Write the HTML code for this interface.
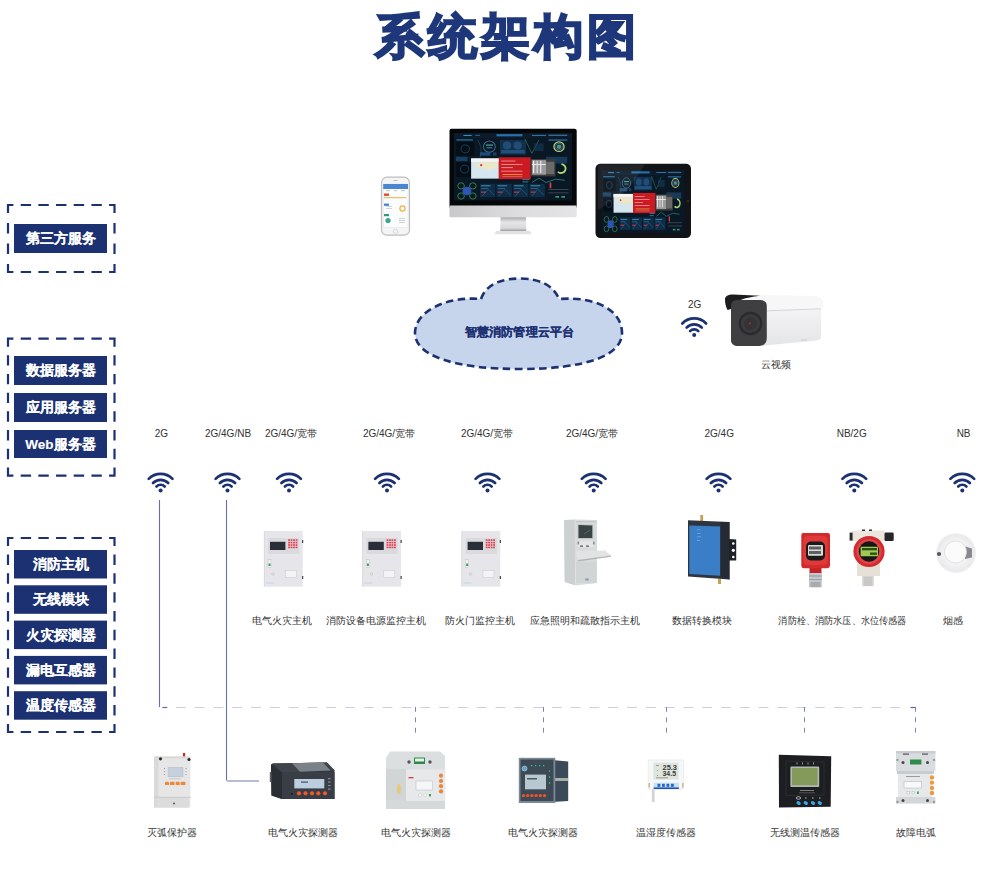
<!DOCTYPE html><html><head><meta charset="utf-8"><style>
html,body{margin:0;padding:0;background:#fff;width:1000px;height:889px;overflow:hidden}
svg{display:block}
text{font-family:"Liberation Sans",sans-serif}
.bt{fill:#fff;font-weight:bold;stroke:#fff;stroke-width:0.12px}
.lb{fill:#333;font-size:10px}
</style></head><body>
<svg width="1000" height="889" viewBox="0 0 1000 889">
<defs>
<g id="wifi">
<path d="M-11.9 -11.5 A16.6 16.6 0 0 1 11.9 -11.5" stroke="#1c3172" stroke-width="2.7" fill="none" stroke-linecap="round"/>
<path d="M-7.6 -7.4 A10.6 10.6 0 0 1 7.6 -7.4" stroke="#1c3172" stroke-width="2.7" fill="none" stroke-linecap="round"/>
<path d="M-4.1 -3.9 A5.7 5.7 0 0 1 4.1 -3.9" stroke="#1c3172" stroke-width="2.7" fill="none" stroke-linecap="round"/>
<circle cx="0" cy="0" r="2"/>
</g>
</defs>

<text transform="translate(374.5 52.6) scale(0.935 0.91)" x="0" y="0" letter-spacing="3.6" font-size="53" font-weight="bold" fill="#1e377a" stroke="#1e377a" stroke-width="2.2">系统架构图</text>
<path d="M6.90 205.00L13.40 205.00M109.10 205.00L115.60 205.00M20.68 205.00L31.08 205.00M38.37 205.00L48.77 205.00M56.05 205.00L66.45 205.00M73.73 205.00L84.13 205.00M91.42 205.00L101.82 205.00M6.90 272.00L13.40 272.00M109.10 272.00L115.60 272.00M20.68 272.00L31.08 272.00M38.37 272.00L48.77 272.00M56.05 272.00L66.45 272.00M73.73 272.00L84.13 272.00M91.42 272.00L101.82 272.00M8.00 203.90L8.00 213.10M8.00 263.90L8.00 273.10M8.00 223.10L8.00 233.50M8.00 243.50L8.00 253.90M114.50 203.90L114.50 213.10M114.50 263.90L114.50 273.10M114.50 223.10L114.50 233.50M114.50 243.50L114.50 253.90" stroke="#1c3172" stroke-width="2.20" fill="none"/>
<rect x="14.0" y="224.0" width="93.0" height="29.0" fill="#1c3172"/>
<text x="60.5" y="243.4" class="bt" font-size="13.5" text-anchor="middle">第三方服务</text>
<path d="M6.90 338.70L13.40 338.70M109.10 338.70L115.60 338.70M20.68 338.70L31.08 338.70M38.37 338.70L48.77 338.70M56.05 338.70L66.45 338.70M73.73 338.70L84.13 338.70M91.42 338.70L101.82 338.70M6.90 475.70L13.40 475.70M109.10 475.70L115.60 475.70M20.68 475.70L31.08 475.70M38.37 475.70L48.77 475.70M56.05 475.70L66.45 475.70M73.73 475.70L84.13 475.70M91.42 475.70L101.82 475.70M8.00 337.60L8.00 346.80M8.00 467.60L8.00 476.80M8.00 355.14L8.00 365.54M8.00 373.89L8.00 384.29M8.00 392.63L8.00 403.03M8.00 411.37L8.00 421.77M8.00 430.11L8.00 440.51M8.00 448.86L8.00 459.26M114.50 337.60L114.50 346.80M114.50 467.60L114.50 476.80M114.50 355.14L114.50 365.54M114.50 373.89L114.50 384.29M114.50 392.63L114.50 403.03M114.50 411.37L114.50 421.77M114.50 430.11L114.50 440.51M114.50 448.86L114.50 459.26" stroke="#1c3172" stroke-width="2.20" fill="none"/>
<rect x="14.0" y="356.0" width="93.0" height="29.0" fill="#1c3172"/>
<text x="60.5" y="375.4" class="bt" font-size="13.5" text-anchor="middle">数据服务器</text>
<rect x="14.0" y="393.0" width="93.0" height="29.0" fill="#1c3172"/>
<text x="60.5" y="412.4" class="bt" font-size="13.5" text-anchor="middle">应用服务器</text>
<rect x="14.0" y="430.0" width="93.0" height="28.0" fill="#1c3172"/>
<text x="60.5" y="448.9" class="bt" font-size="13.5" text-anchor="middle">Web服务器</text>
<path d="M6.90 538.00L13.40 538.00M109.10 538.00L115.60 538.00M20.68 538.00L31.08 538.00M38.37 538.00L48.77 538.00M56.05 538.00L66.45 538.00M73.73 538.00L84.13 538.00M91.42 538.00L101.82 538.00M6.90 732.00L13.40 732.00M109.10 732.00L115.60 732.00M20.68 732.00L31.08 732.00M38.37 732.00L48.77 732.00M56.05 732.00L66.45 732.00M73.73 732.00L84.13 732.00M91.42 732.00L101.82 732.00M8.00 536.90L8.00 546.10M8.00 723.90L8.00 733.10M8.00 554.52L8.00 564.92M8.00 573.34L8.00 583.74M8.00 592.16L8.00 602.56M8.00 610.98L8.00 621.38M8.00 629.80L8.00 640.20M8.00 648.62L8.00 659.02M8.00 667.44L8.00 677.84M8.00 686.26L8.00 696.66M8.00 705.08L8.00 715.48M114.50 536.90L114.50 546.10M114.50 723.90L114.50 733.10M114.50 554.52L114.50 564.92M114.50 573.34L114.50 583.74M114.50 592.16L114.50 602.56M114.50 610.98L114.50 621.38M114.50 629.80L114.50 640.20M114.50 648.62L114.50 659.02M114.50 667.44L114.50 677.84M114.50 686.26L114.50 696.66M114.50 705.08L114.50 715.48" stroke="#1c3172" stroke-width="2.20" fill="none"/>
<rect x="14.0" y="550.0" width="93.0" height="28.5" fill="#1c3172"/>
<text x="60.5" y="569.1" class="bt" font-size="13.5" text-anchor="middle">消防主机</text>
<rect x="14.0" y="585.3" width="93.0" height="28.5" fill="#1c3172"/>
<text x="60.5" y="604.4" class="bt" font-size="13.5" text-anchor="middle">无线模块</text>
<rect x="14.0" y="620.6" width="93.0" height="28.5" fill="#1c3172"/>
<text x="60.5" y="639.7" class="bt" font-size="13.5" text-anchor="middle">火灾探测器</text>
<rect x="14.0" y="655.9" width="93.0" height="28.5" fill="#1c3172"/>
<text x="60.5" y="675.0" class="bt" font-size="13.5" text-anchor="middle">漏电互感器</text>
<rect x="14.0" y="691.2" width="93.0" height="28.5" fill="#1c3172"/>
<text x="60.5" y="710.3" class="bt" font-size="13.5" text-anchor="middle">温度传感器</text>
<use href="#wifi" x="160.6" y="490.4" fill="#1c3172"/>
<use href="#wifi" x="227.5" y="490.4" fill="#1c3172"/>
<use href="#wifi" x="289.0" y="490.4" fill="#1c3172"/>
<use href="#wifi" x="387.0" y="490.4" fill="#1c3172"/>
<use href="#wifi" x="487.5" y="490.4" fill="#1c3172"/>
<use href="#wifi" x="593.7" y="490.4" fill="#1c3172"/>
<use href="#wifi" x="718.5" y="490.4" fill="#1c3172"/>
<use href="#wifi" x="854.3" y="490.4" fill="#1c3172"/>
<use href="#wifi" x="962.3" y="490.4" fill="#1c3172"/>
<use href="#wifi" x="694.2" y="335.0" fill="#1c3172"/>
<text x="161.4" y="437.0" class="lb" text-anchor="middle">2G</text>
<text x="228.0" y="437.0" class="lb" text-anchor="middle">2G/4G/NB</text>
<text x="291.0" y="437.0" class="lb" text-anchor="middle">2G/4G/宽带</text>
<text x="389.0" y="437.0" class="lb" text-anchor="middle">2G/4G/宽带</text>
<text x="487.0" y="437.0" class="lb" text-anchor="middle">2G/4G/宽带</text>
<text x="592.0" y="437.0" class="lb" text-anchor="middle">2G/4G/宽带</text>
<text x="719.2" y="437.0" class="lb" text-anchor="middle">2G/4G</text>
<text x="851.7" y="437.0" class="lb" text-anchor="middle">NB/2G</text>
<text x="963.6" y="437.0" class="lb" text-anchor="middle">NB</text>
<text x="694.6" y="308.0" class="lb" text-anchor="middle">2G</text>
<text x="281.5" y="624.0" class="lb" text-anchor="middle">电气火灾主机</text>
<text x="375.6" y="624.0" class="lb" text-anchor="middle">消防设备电源监控主机</text>
<text x="479.5" y="624.0" class="lb" text-anchor="middle">防火门监控主机</text>
<text x="584.8" y="624.0" class="lb" text-anchor="middle">应急照明和疏散指示主机</text>
<text x="702.4" y="624.0" class="lb" text-anchor="middle">数据转换模块</text>
<text x="842.4" y="624.0" class="lb" text-anchor="middle" textLength="128" lengthAdjust="spacingAndGlyphs">消防栓、消防水压、水位传感器</text>
<text x="953.2" y="624.0" class="lb" text-anchor="middle">烟感</text>
<text x="775.5" y="368.0" class="lb" text-anchor="middle">云视频</text>
<text x="172.3" y="836.0" class="lb" text-anchor="middle">灭弧保护器</text>
<text x="303.0" y="836.0" class="lb" text-anchor="middle">电气火灾探测器</text>
<text x="415.9" y="836.0" class="lb" text-anchor="middle">电气火灾探测器</text>
<text x="543.2" y="836.0" class="lb" text-anchor="middle">电气火灾探测器</text>
<text x="666.2" y="836.0" class="lb" text-anchor="middle">温湿度传感器</text>
<text x="804.7" y="836.0" class="lb" text-anchor="middle">无线测温传感器</text>
<text x="916.4" y="836.0" class="lb" text-anchor="middle">故障电弧</text>
<path d="M159.5 500 V707" stroke="#6670a8" stroke-width="1.1" fill="none"/>
<path d="M162.4 707.5 H167.2" stroke="#5a64a8" stroke-width="1.2" fill="none"/>
<path d="M226.5 500 V780.5" stroke="#6670a8" stroke-width="1.1" fill="none"/>
<path d="M227 781 H259" stroke="#a9b1cf" stroke-width="1.7" fill="none"/>
<path d="M910.5 707.5 H916" stroke="#5a64a8" stroke-width="1.2" fill="none"/>
<path d="M176 707.5 H905" stroke="#c9cee2" stroke-width="1" fill="none" stroke-dasharray="9.6 9.2"/>
<path d="M415.5 707 V733" stroke="#7d86b0" stroke-width="1" fill="none" stroke-dasharray="4.8 5.6"/>
<path d="M543.5 707 V733" stroke="#7d86b0" stroke-width="1" fill="none" stroke-dasharray="4.8 5.6"/>
<path d="M666.5 707 V733" stroke="#7d86b0" stroke-width="1" fill="none" stroke-dasharray="4.8 5.6"/>
<path d="M804.5 707 V733" stroke="#7d86b0" stroke-width="1" fill="none" stroke-dasharray="4.8 5.6"/>
<path d="M915.5 707 V733" stroke="#7d86b0" stroke-width="1" fill="none" stroke-dasharray="4.8 5.6"/>
<path d="M481 299 C486 284 502 278.5 520 278.5 C540 278.5 554 286 559 299 C595 296 622 310 622 333 C622 356 585 369 520 369 C455 369 415 356 415 333 C415 312 445 296 481 299 Z" fill="#c6d4ec" stroke="#1c3172" stroke-width="2.6" stroke-dasharray="7.5 4.5"/>
<text x="519.5" y="336" text-anchor="middle" style="font-size:12.2px;font-weight:700" fill="#1c3172" stroke="#1c3172" stroke-width="0.15" textLength="108.5" lengthAdjust="spacingAndGlyphs">智慧消防管理云平台</text>
<g id="phone">
<rect x="381.5" y="177.2" width="28" height="58" rx="5.5" fill="#f4f4f4" stroke="#bdbdbd" stroke-width="1.2"/>
<rect x="383.2" y="184" width="24.8" height="43.5" fill="#fbfcfe" stroke="#d8dde3" stroke-width="0.4"/>
<rect x="383.2" y="184" width="24.8" height="5" fill="#4a86cf"/>
<rect x="393.5" y="180" width="4" height="1" fill="#bbb"/>
<circle cx="395.5" cy="231.3" r="2.2" fill="none" stroke="#c8c8c8" stroke-width="0.6"/>
<rect x="384" y="193.5" width="5" height="2.4" fill="#e0463c"/>
<rect x="384" y="197.2" width="22.5" height="1" fill="#f0b040"/>
<rect x="384" y="203.6" width="5" height="2.2" fill="#3d7fd0"/>
<circle cx="402.5" cy="208.5" r="2.6" fill="none" stroke="#f2b23a" stroke-width="1.2"/>
<rect x="384" y="214" width="5" height="2.2" fill="#2e9a78"/>
<circle cx="388" cy="220.5" r="2.6" fill="#3aa88a"/>
<rect x="386" y="190.5" width="4" height="0.6" fill="#999"/><rect x="394" y="190.5" width="3" height="0.6" fill="#999"/><rect x="401" y="190.5" width="4" height="0.6" fill="#999"/>
<rect x="386" y="206" width="6" height="0.5" fill="#aaa"/><rect x="386" y="208" width="6" height="0.5" fill="#aaa"/>
<rect x="399" y="218" width="6" height="0.5" fill="#aaa"/><rect x="399" y="220" width="6" height="0.5" fill="#aaa"/><rect x="399" y="222" width="6" height="0.5" fill="#aaa"/>
</g>
<g id="imac">
<defs><linearGradient id="chin" x1="0" y1="0" x2="1" y2="0"><stop offset="0" stop-color="#c8c8ca"/><stop offset="0.5" stop-color="#dcdcde"/><stop offset="1" stop-color="#e4e4e6"/></linearGradient>
<linearGradient id="stand" x1="0" y1="0" x2="0" y2="1"><stop offset="0" stop-color="#a9a9ab"/><stop offset="0.35" stop-color="#e6e6e8"/><stop offset="0.8" stop-color="#d8d8da"/><stop offset="1" stop-color="#9c9c9e"/></linearGradient></defs>
<rect x="449.5" y="128.7" width="127.2" height="80" rx="2" fill="#060708"/>
<rect x="449.5" y="205.5" width="127.2" height="11.8" rx="1.2" fill="url(#chin)"/>
<path d="M500.5 217.3 L526 217.3 L526.3 231 L500.2 231 Z" fill="url(#stand)"/>
<path d="M496 231 L530 231 L531.5 234.2 L494.5 234.2 Z" fill="#e2e2e4"/>

<g transform="translate(454.00 133.20) scale(1.1800 1.1217)">
<rect x="0" y="0" width="100" height="60" fill="#0a1724"/>
<rect x="0" y="0" width="100" height="4.5" fill="#0c1c2c"/>
<rect x="8" y="1.5" width="7" height="1" fill="#3f8ab8"/><rect x="18" y="1.5" width="4" height="0.8" fill="#2d6a90"/><rect x="36" y="0.8" width="22" height="2" fill="#2a6fa8"/><rect x="66" y="1.5" width="12" height="0.9" fill="#3a7aa8"/><rect x="80" y="1.3" width="16" height="1.2" fill="#4a8ab8" opacity="0.7"/>
<rect x="2" y="5.5" width="14" height="1" fill="#2a7ab0"/><rect x="80" y="5.5" width="16" height="1.2" fill="#2a6a9a"/>
<rect x="2" y="8" width="15" height="12" fill="#050d15"/>
<circle cx="9.5" cy="14" r="3.5" fill="none" stroke="#1f4a6a" stroke-width="0.7"/>
<rect x="1.5" y="21" width="10" height="4" fill="#1a4a70" opacity="0.8"/>
<rect x="2" y="26" width="13" height="13" fill="#050d15"/>
<circle cx="9" cy="32" r="3.5" fill="none" stroke="#1f4a6a" stroke-width="0.7"/>
<path d="M20 6 C24 12 24 20 20 26" stroke="#2a4a60" stroke-width="0.6" fill="none"/>
<circle cx="30" cy="12" r="5" fill="none" stroke="#3a6a90" stroke-width="0.9"/><rect x="27" y="10" width="6" height="1.2" fill="#3fa080"/><rect x="27.5" y="12.5" width="5" height="1" fill="#3a7aa0"/>
<rect x="22" y="17" width="9" height="3" fill="#1f5a8a" opacity="0.8"/><rect x="33" y="17" width="3" height="3" fill="#1f5a8a" opacity="0.6"/>
<rect x="39" y="6" width="22" height="13" fill="#163a5a" opacity="0.75"/>
<circle cx="45" cy="11" r="3.5" fill="#23507a" opacity="0.9"/><circle cx="54" cy="11" r="3.5" fill="#23507a" opacity="0.9"/>
<rect x="40" y="15" width="20" height="3" fill="#2a6090" opacity="0.7"/>
<path d="M60 5 L66 18 L72 6" stroke="#2a7a5a" stroke-width="0.6" fill="none"/>
<rect x="68" y="9" width="8" height="7" fill="#163a5a" opacity="0.6"/>
<circle cx="89" cy="12" r="4.3" fill="none" stroke="#a8d870" stroke-width="1.1"/><circle cx="89" cy="12" r="3" fill="none" stroke="#8a60c0" stroke-width="0.6"/><circle cx="89" cy="12" r="2" fill="#3a9a80"/>
<rect x="78" y="21" width="18" height="6" fill="#1a4466" opacity="0.8"/>
<g transform="translate(0 1.5)">
<rect x="14.5" y="21" width="23.5" height="18" fill="#d6e6ee"/>
<rect x="14.5" y="21" width="23.5" height="3" fill="#f4f4f2"/>
<path d="M16 28 L23 24.5 L37 24.5 L37 29 L30 31 L22 29 Z" fill="#eee6c0" opacity="0.85"/>
<circle cx="23" cy="27" r="1" fill="#e04040"/>
<rect x="38" y="20" width="27" height="19.5" fill="#cc1a22"/>
<rect x="40" y="23" width="12" height="0.6" fill="#f6c0c0"/><rect x="40" y="26" width="18" height="0.6" fill="#f6c0c0"/><rect x="40" y="29" width="10" height="0.6" fill="#f6c0c0"/><rect x="40" y="32" width="18" height="0.6" fill="#f6c0c0"/><rect x="41" y="35" width="17" height="0.8" fill="#e0a040"/><rect x="41" y="37" width="17" height="0.6" fill="#d08080"/>
<rect x="65" y="21.5" width="21" height="15.5" fill="#3c3c3c"/>
<rect x="66" y="22.5" width="12" height="13" fill="#9a9a9a"/>
<rect x="67" y="23" width="1" height="11" fill="#f0f0f0"/><rect x="70" y="23" width="1" height="11" fill="#e0e0e0"/><rect x="73" y="23" width="1" height="11" fill="#e8e8e8"/><rect x="66" y="26" width="12" height="0.8" fill="#eee"/><rect x="78" y="24" width="7" height="11" fill="#6a6a6a"/>
<path d="M91 26 A4 4 0 1 1 88 33" stroke="#a8d870" stroke-width="1.6" fill="none"/>
</g>
<rect x="58" y="41" width="6" height="0.8" fill="#3a8aa0"/><rect x="58" y="43" width="5" height="0.8" fill="#3a8aa0"/><path d="M66 44 L72 40 L78 44 L86 41 L94 42" stroke="#2a8a7a" stroke-width="0.7" fill="none"/>
<circle cx="6" cy="47" r="2.8" fill="none" stroke="#3a9a50" stroke-width="0.7"/><circle cx="16" cy="47" r="2.8" fill="none" stroke="#3a9a50" stroke-width="0.7"/><circle cx="6" cy="56" r="2.8" fill="none" stroke="#3a9a50" stroke-width="0.7"/><circle cx="16" cy="56" r="2.8" fill="none" stroke="#3a9a50" stroke-width="0.7"/>
<circle cx="11" cy="51.5" r="3.8" fill="#2d55b5"/>
<rect x="22" y="45" width="13" height="12" fill="#10304a" opacity="0.9"/><rect x="23" y="46.5" width="8" height="0.8" fill="#4a9ac8"/><rect x="23" y="49" width="6" height="0.6" fill="#3a7aa0"/><rect x="23" y="52" width="4" height="1.1" fill="#d03040"/><path d="M24 56 L29 50 L34 55" stroke="#2a70a0" stroke-width="0.5" fill="none"/>
<rect x="36" y="45" width="13" height="12" fill="#10304a" opacity="0.9"/><rect x="37" y="46.5" width="8" height="0.8" fill="#4a9ac8"/><rect x="37" y="49" width="6" height="0.6" fill="#3a7aa0"/><rect x="37" y="52" width="4" height="1.1" fill="#d03040"/><path d="M38 56 L43 50 L48 55" stroke="#2a70a0" stroke-width="0.5" fill="none"/>
<rect x="50" y="45" width="13" height="12" fill="#10304a" opacity="0.9"/><rect x="51" y="46.5" width="8" height="0.8" fill="#4a9ac8"/><rect x="51" y="49" width="6" height="0.6" fill="#3a7aa0"/><rect x="51" y="52" width="4" height="1.1" fill="#d03040"/><path d="M52 56 L57 50 L62 55" stroke="#2a70a0" stroke-width="0.5" fill="none"/>
<rect x="64" y="45" width="13" height="12" fill="#10304a" opacity="0.9"/><rect x="65" y="46.5" width="8" height="0.8" fill="#4a9ac8"/><rect x="65" y="49" width="6" height="0.6" fill="#3a7aa0"/><rect x="65" y="52" width="4" height="1.1" fill="#d03040"/><path d="M66 56 L71 50 L76 55" stroke="#2a70a0" stroke-width="0.5" fill="none"/>
<rect x="81" y="44" width="1.5" height="5" fill="#d04050"/><rect x="80" y="50" width="17" height="0.5" fill="#667"/><rect x="80" y="53" width="17" height="0.5" fill="#667"/><rect x="86" y="56" width="3" height="1.5" fill="#3aa070"/><rect x="91" y="56" width="3" height="1.5" fill="#3aa070"/>
</g>
</g>
<g id="tablet">
<rect x="595.5" y="163.8" width="95.5" height="74.3" rx="5" fill="#121316"/>
<path d="M650 163.8 L691 163.8 L691 200 Z" fill="#2a2b30" opacity="0.0"/>
<circle cx="688" cy="201" r="1.3" fill="#2a2c30"/>

<g transform="translate(601.50 170.50) scale(0.8300 1.0417)">
<rect x="0" y="0" width="100" height="60" fill="#0a1724"/>
<rect x="0" y="0" width="100" height="4.5" fill="#0c1c2c"/>
<rect x="8" y="1.5" width="7" height="1" fill="#3f8ab8"/><rect x="18" y="1.5" width="4" height="0.8" fill="#2d6a90"/><rect x="36" y="0.8" width="22" height="2" fill="#2a6fa8"/><rect x="66" y="1.5" width="12" height="0.9" fill="#3a7aa8"/><rect x="80" y="1.3" width="16" height="1.2" fill="#4a8ab8" opacity="0.7"/>
<rect x="2" y="5.5" width="14" height="1" fill="#2a7ab0"/><rect x="80" y="5.5" width="16" height="1.2" fill="#2a6a9a"/>
<rect x="2" y="8" width="15" height="12" fill="#050d15"/>
<circle cx="9.5" cy="14" r="3.5" fill="none" stroke="#1f4a6a" stroke-width="0.7"/>
<rect x="1.5" y="21" width="10" height="4" fill="#1a4a70" opacity="0.8"/>
<rect x="2" y="26" width="13" height="13" fill="#050d15"/>
<circle cx="9" cy="32" r="3.5" fill="none" stroke="#1f4a6a" stroke-width="0.7"/>
<path d="M20 6 C24 12 24 20 20 26" stroke="#2a4a60" stroke-width="0.6" fill="none"/>
<circle cx="30" cy="12" r="5" fill="none" stroke="#3a6a90" stroke-width="0.9"/><rect x="27" y="10" width="6" height="1.2" fill="#3fa080"/><rect x="27.5" y="12.5" width="5" height="1" fill="#3a7aa0"/>
<rect x="22" y="17" width="9" height="3" fill="#1f5a8a" opacity="0.8"/><rect x="33" y="17" width="3" height="3" fill="#1f5a8a" opacity="0.6"/>
<rect x="39" y="6" width="22" height="13" fill="#163a5a" opacity="0.75"/>
<circle cx="45" cy="11" r="3.5" fill="#23507a" opacity="0.9"/><circle cx="54" cy="11" r="3.5" fill="#23507a" opacity="0.9"/>
<rect x="40" y="15" width="20" height="3" fill="#2a6090" opacity="0.7"/>
<path d="M60 5 L66 18 L72 6" stroke="#2a7a5a" stroke-width="0.6" fill="none"/>
<rect x="68" y="9" width="8" height="7" fill="#163a5a" opacity="0.6"/>
<circle cx="89" cy="12" r="4.3" fill="none" stroke="#a8d870" stroke-width="1.1"/><circle cx="89" cy="12" r="3" fill="none" stroke="#8a60c0" stroke-width="0.6"/><circle cx="89" cy="12" r="2" fill="#3a9a80"/>
<rect x="78" y="21" width="18" height="6" fill="#1a4466" opacity="0.8"/>
<g transform="translate(0 1.5)">
<rect x="14.5" y="21" width="23.5" height="18" fill="#d6e6ee"/>
<rect x="14.5" y="21" width="23.5" height="3" fill="#f4f4f2"/>
<path d="M16 28 L23 24.5 L37 24.5 L37 29 L30 31 L22 29 Z" fill="#eee6c0" opacity="0.85"/>
<circle cx="23" cy="27" r="1" fill="#e04040"/>
<rect x="38" y="20" width="27" height="19.5" fill="#cc1a22"/>
<rect x="40" y="23" width="12" height="0.6" fill="#f6c0c0"/><rect x="40" y="26" width="18" height="0.6" fill="#f6c0c0"/><rect x="40" y="29" width="10" height="0.6" fill="#f6c0c0"/><rect x="40" y="32" width="18" height="0.6" fill="#f6c0c0"/><rect x="41" y="35" width="17" height="0.8" fill="#e0a040"/><rect x="41" y="37" width="17" height="0.6" fill="#d08080"/>
<rect x="65" y="21.5" width="21" height="15.5" fill="#3c3c3c"/>
<rect x="66" y="22.5" width="12" height="13" fill="#9a9a9a"/>
<rect x="67" y="23" width="1" height="11" fill="#f0f0f0"/><rect x="70" y="23" width="1" height="11" fill="#e0e0e0"/><rect x="73" y="23" width="1" height="11" fill="#e8e8e8"/><rect x="66" y="26" width="12" height="0.8" fill="#eee"/><rect x="78" y="24" width="7" height="11" fill="#6a6a6a"/>
<path d="M91 26 A4 4 0 1 1 88 33" stroke="#a8d870" stroke-width="1.6" fill="none"/>
</g>
<rect x="58" y="41" width="6" height="0.8" fill="#3a8aa0"/><rect x="58" y="43" width="5" height="0.8" fill="#3a8aa0"/><path d="M66 44 L72 40 L78 44 L86 41 L94 42" stroke="#2a8a7a" stroke-width="0.7" fill="none"/>
<circle cx="6" cy="47" r="2.8" fill="none" stroke="#3a9a50" stroke-width="0.7"/><circle cx="16" cy="47" r="2.8" fill="none" stroke="#3a9a50" stroke-width="0.7"/><circle cx="6" cy="56" r="2.8" fill="none" stroke="#3a9a50" stroke-width="0.7"/><circle cx="16" cy="56" r="2.8" fill="none" stroke="#3a9a50" stroke-width="0.7"/>
<circle cx="11" cy="51.5" r="3.8" fill="#2d55b5"/>
<rect x="22" y="45" width="13" height="12" fill="#10304a" opacity="0.9"/><rect x="23" y="46.5" width="8" height="0.8" fill="#4a9ac8"/><rect x="23" y="49" width="6" height="0.6" fill="#3a7aa0"/><rect x="23" y="52" width="4" height="1.1" fill="#d03040"/><path d="M24 56 L29 50 L34 55" stroke="#2a70a0" stroke-width="0.5" fill="none"/>
<rect x="36" y="45" width="13" height="12" fill="#10304a" opacity="0.9"/><rect x="37" y="46.5" width="8" height="0.8" fill="#4a9ac8"/><rect x="37" y="49" width="6" height="0.6" fill="#3a7aa0"/><rect x="37" y="52" width="4" height="1.1" fill="#d03040"/><path d="M38 56 L43 50 L48 55" stroke="#2a70a0" stroke-width="0.5" fill="none"/>
<rect x="50" y="45" width="13" height="12" fill="#10304a" opacity="0.9"/><rect x="51" y="46.5" width="8" height="0.8" fill="#4a9ac8"/><rect x="51" y="49" width="6" height="0.6" fill="#3a7aa0"/><rect x="51" y="52" width="4" height="1.1" fill="#d03040"/><path d="M52 56 L57 50 L62 55" stroke="#2a70a0" stroke-width="0.5" fill="none"/>
<rect x="64" y="45" width="13" height="12" fill="#10304a" opacity="0.9"/><rect x="65" y="46.5" width="8" height="0.8" fill="#4a9ac8"/><rect x="65" y="49" width="6" height="0.6" fill="#3a7aa0"/><rect x="65" y="52" width="4" height="1.1" fill="#d03040"/><path d="M66 56 L71 50 L76 55" stroke="#2a70a0" stroke-width="0.5" fill="none"/>
<rect x="81" y="44" width="1.5" height="5" fill="#d04050"/><rect x="80" y="50" width="17" height="0.5" fill="#667"/><rect x="80" y="53" width="17" height="0.5" fill="#667"/><rect x="86" y="56" width="3" height="1.5" fill="#3aa070"/><rect x="91" y="56" width="3" height="1.5" fill="#3aa070"/>
</g>
<path d="M598 164.5 L645 164.5 L628 190 L606 205 L598 210 Z" fill="#ffffff" opacity="0.07"/>
</g>
<g id="camera">
<defs><linearGradient id="cbody" x1="0" y1="0" x2="0" y2="1"><stop offset="0" stop-color="#f4f4f5"/><stop offset="1" stop-color="#e4e5e7"/></linearGradient></defs>
<path d="M760 309 L821 307 L821 337 C821 339 819.5 340 817 340.5 L760 346 Z" fill="url(#cbody)"/>
<path d="M727 300 C727 296 731 294.5 737 294.5 L815 296 C820 296.5 823 299 823 303 L823 306.5 C823 307.8 822 308.3 821 308.3 L762 310.5 L738 303 Z" fill="#f7f7f8"/>
<path d="M762 310.5 L821 308.3 L821 309.3 L762 311.5 Z" fill="#d5d6d8"/>
<path d="M725 299.5 C725 296 728 294.5 733 294.5 L760 295.8 C750 297 742 299 737 301.5 C733.5 303.5 732 306 731 309 L727.5 310 C725.8 306.5 725 303 725 299.5 Z" fill="#1c1c1e"/>
<path d="M731 305.5 C731 301.5 734 300 738 300 L760 300 C764.5 300 766.8 302 766.8 306 L766.8 338 C766.8 343 764 346 759 346 L738 346 C734 346 731 344 731 340 Z" fill="#3f3f42"/>
<circle cx="750.5" cy="323.5" r="11.8" fill="#2a2a2c"/>
<circle cx="750.5" cy="323.5" r="9.6" fill="#3b3b3e"/>
<circle cx="750.5" cy="323.5" r="6.5" fill="#343437"/>
<circle cx="749.8" cy="323.5" r="1" fill="#a83030"/>
<rect x="801" y="339" width="6" height="2" fill="#d8d8da"/>
</g>
<g>
<rect x="263.9" y="531" width="38.8" height="55.7" fill="#e6e6ea"/>
<rect x="263.9" y="531" width="0.8" height="55.7" fill="#d6d6da"/>
<rect x="268.0" y="538" width="31.3" height="15.8" fill="#d9d9de"/>
<rect x="270.0" y="541.8" width="15.4" height="8.2" fill="#2a2e38"/>
<g fill="#e23a48"><rect x="288.2" y="539.3" width="1.8" height="1.6"/><rect x="288.2" y="541.8" width="1.8" height="1.6"/><rect x="288.2" y="544.2" width="1.8" height="1.6"/><rect x="288.2" y="546.6" width="1.8" height="1.6"/><rect x="290.6" y="539.3" width="1.8" height="1.6"/><rect x="290.6" y="541.8" width="1.8" height="1.6"/><rect x="290.6" y="544.2" width="1.8" height="1.6"/><rect x="290.6" y="546.6" width="1.8" height="1.6"/><rect x="293.1" y="539.3" width="1.8" height="1.6"/><rect x="293.1" y="541.8" width="1.8" height="1.6"/><rect x="293.1" y="544.2" width="1.8" height="1.6"/><rect x="293.1" y="546.6" width="1.8" height="1.6"/><rect x="295.6" y="539.3" width="1.8" height="1.6"/><rect x="295.6" y="541.8" width="1.8" height="1.6"/><rect x="295.6" y="544.2" width="1.8" height="1.6"/><rect x="295.6" y="546.6" width="1.8" height="1.6"/></g>
<rect x="302.2" y="540" width="1" height="3" fill="#222"/>
<rect x="302.2" y="576" width="1" height="3" fill="#222"/>
<rect x="268.0" y="559.7" width="3" height="8" fill="#f2f2f2" stroke="#b8b8b8" stroke-width="0.4"/>
<rect x="268.5" y="563.5" width="2" height="2.5" fill="#3aa070"/>
<rect x="285.4" y="570.6" width="11" height="6.8" fill="#f4f4f6" stroke="#c8c8cc" stroke-width="0.5"/>
<circle cx="273.0" cy="574" r="1.3" fill="none" stroke="#bbb" stroke-width="0.5"/>
<rect x="265.9" y="582" width="8" height="2" fill="#d4dde8"/>
</g>
<g>
<rect x="362.3" y="531" width="38.8" height="55.7" fill="#e6e6ea"/>
<rect x="362.3" y="531" width="0.8" height="55.7" fill="#d6d6da"/>
<rect x="366.4" y="538" width="31.3" height="15.8" fill="#d9d9de"/>
<rect x="368.4" y="541.8" width="15.4" height="8.2" fill="#2a2e38"/>
<g fill="#e23a48"><rect x="386.6" y="539.3" width="1.8" height="1.6"/><rect x="386.6" y="541.8" width="1.8" height="1.6"/><rect x="386.6" y="544.2" width="1.8" height="1.6"/><rect x="386.6" y="546.6" width="1.8" height="1.6"/><rect x="389.1" y="539.3" width="1.8" height="1.6"/><rect x="389.1" y="541.8" width="1.8" height="1.6"/><rect x="389.1" y="544.2" width="1.8" height="1.6"/><rect x="389.1" y="546.6" width="1.8" height="1.6"/><rect x="391.5" y="539.3" width="1.8" height="1.6"/><rect x="391.5" y="541.8" width="1.8" height="1.6"/><rect x="391.5" y="544.2" width="1.8" height="1.6"/><rect x="391.5" y="546.6" width="1.8" height="1.6"/><rect x="394.0" y="539.3" width="1.8" height="1.6"/><rect x="394.0" y="541.8" width="1.8" height="1.6"/><rect x="394.0" y="544.2" width="1.8" height="1.6"/><rect x="394.0" y="546.6" width="1.8" height="1.6"/></g>
<rect x="400.6" y="540" width="1" height="3" fill="#222"/>
<rect x="400.6" y="576" width="1" height="3" fill="#222"/>
<rect x="366.4" y="559.7" width="3" height="8" fill="#f2f2f2" stroke="#b8b8b8" stroke-width="0.4"/>
<rect x="366.9" y="563.5" width="2" height="2.5" fill="#3aa070"/>
<rect x="383.8" y="570.6" width="11" height="6.8" fill="#f4f4f6" stroke="#c8c8cc" stroke-width="0.5"/>
<circle cx="371.4" cy="574" r="1.3" fill="none" stroke="#bbb" stroke-width="0.5"/>
<rect x="364.3" y="582" width="8" height="2" fill="#d4dde8"/>
</g>
<g>
<rect x="461.5" y="531" width="38.8" height="55.7" fill="#e6e6ea"/>
<rect x="461.5" y="531" width="0.8" height="55.7" fill="#d6d6da"/>
<rect x="465.6" y="538" width="31.3" height="15.8" fill="#d9d9de"/>
<rect x="467.6" y="541.8" width="15.4" height="8.2" fill="#2a2e38"/>
<g fill="#e23a48"><rect x="485.8" y="539.3" width="1.8" height="1.6"/><rect x="485.8" y="541.8" width="1.8" height="1.6"/><rect x="485.8" y="544.2" width="1.8" height="1.6"/><rect x="485.8" y="546.6" width="1.8" height="1.6"/><rect x="488.2" y="539.3" width="1.8" height="1.6"/><rect x="488.2" y="541.8" width="1.8" height="1.6"/><rect x="488.2" y="544.2" width="1.8" height="1.6"/><rect x="488.2" y="546.6" width="1.8" height="1.6"/><rect x="490.7" y="539.3" width="1.8" height="1.6"/><rect x="490.7" y="541.8" width="1.8" height="1.6"/><rect x="490.7" y="544.2" width="1.8" height="1.6"/><rect x="490.7" y="546.6" width="1.8" height="1.6"/><rect x="493.2" y="539.3" width="1.8" height="1.6"/><rect x="493.2" y="541.8" width="1.8" height="1.6"/><rect x="493.2" y="544.2" width="1.8" height="1.6"/><rect x="493.2" y="546.6" width="1.8" height="1.6"/></g>
<rect x="499.8" y="540" width="1" height="3" fill="#222"/>
<rect x="499.8" y="576" width="1" height="3" fill="#222"/>
<rect x="465.6" y="559.7" width="3" height="8" fill="#f2f2f2" stroke="#b8b8b8" stroke-width="0.4"/>
<rect x="466.1" y="563.5" width="2" height="2.5" fill="#3aa070"/>
<rect x="483.0" y="570.6" width="11" height="6.8" fill="#f4f4f6" stroke="#c8c8cc" stroke-width="0.5"/>
<circle cx="470.6" cy="574" r="1.3" fill="none" stroke="#bbb" stroke-width="0.5"/>
<rect x="463.5" y="582" width="8" height="2" fill="#d4dde8"/>
</g>
<g id="kiosk">
<path d="M564 520 L575 519.5 L575.5 585.5 L564.5 582 Z" fill="#cdd0d0"/>
<path d="M574.5 519.5 L597 520 L597 583 L575.5 585.5 Z" fill="#d9dcdc"/>
<rect x="576" y="521" width="20" height="1.5" fill="#c4c8c8"/>
<path d="M577.5 524 L593.3 524.5 L593.3 539 L577.5 539 Z" fill="#c0c4c4"/>
<path d="M578.5 525 L592.3 525.5 L592.3 538 L578.5 538 Z" fill="#3a4444"/>
<path d="M584 534 L590 530" stroke="#7a8484" stroke-width="0.5"/>
<rect x="577.5" y="541" width="17" height="6" fill="#e4e6e6"/>
<rect x="577.5" y="541.5" width="1.6" height="3" fill="#8a8e8e"/><rect x="593" y="541.5" width="1.6" height="3" fill="#8a8e8e"/>
<rect x="580" y="545.5" width="3" height="1.2" fill="#555"/><rect x="586" y="545.5" width="3" height="1.2" fill="#555"/>
<path d="M575.6 551 L605 550.5 L611 555.5 L578 560 Z" fill="#e2e4e4"/>
<path d="M578 560 L611 555.5 L611 556.8 L578 561.5 Z" fill="#b0b4b4"/>
<rect x="576" y="561.5" width="20.5" height="21.5" fill="#d2d5d5"/>
<ellipse cx="587" cy="579.5" rx="2" ry="1.2" fill="#8ca0c8"/>
</g>
<g id="gateway">
<rect x="700.3" y="515" width="2.8" height="7" fill="#c8a050"/>
<rect x="718" y="579" width="3" height="5" fill="#c8a050"/>
<path d="M688 520.3 L729.5 522 L729.5 579.5 L688 576.5 Z" fill="#2f3540"/>
<path d="M689.3 525.6 L720.4 526.5 L720.4 575.8 L689.3 574 Z" fill="#3a7ec8"/>
<path d="M720.4 522 L729.5 522 L729.5 579.5 L720.4 577 Z" fill="#262b33"/>
<path d="M729 539 L736.2 539.5 L736.2 560.5 L729 560.5 Z" fill="#1e2228"/>
<circle cx="733.3" cy="543.5" r="1.3" fill="#fff"/>
<circle cx="733.3" cy="550.3" r="1.6" fill="#fff"/>
<circle cx="733.3" cy="557" r="1.3" fill="#fff"/>
<g fill="#8fb8e8" opacity="0.8"><rect x="697" y="529.5" width="3.5" height="0.7"/><rect x="697" y="533" width="3.5" height="0.7"/><rect x="697" y="536.5" width="4" height="0.7"/><rect x="697" y="540" width="3" height="0.7"/></g>
</g>
<g id="gauges">
<rect x="809" y="572.5" width="12.8" height="14.7" fill="#c4c8cc"/>
<rect x="809" y="575.5" width="12.8" height="1" fill="#8e949a"/><rect x="809" y="579" width="12.8" height="1" fill="#9aa0a6"/>
<rect x="810.5" y="582" width="10" height="5.2" fill="#a8acb0"/>
<rect x="809.5" y="566" width="12" height="7" fill="#c42228"/>
<path d="M803 533 L828 533 C829.5 533 830 534 830 536 L830 565 C830 567 829 568.3 827 568.3 L804 568.3 C802 568.3 801.3 567 801.3 565 L801.3 536 C801.3 534 801.8 533 803 533 Z" fill="#d42a2c"/>
<rect x="803.5" y="536" width="24" height="29" rx="4" fill="#de3a3a"/>
<rect x="806" y="541.5" width="19" height="19" rx="5" fill="#1a1a1c"/>
<rect x="808" y="545" width="15" height="10.7" rx="1" fill="#d8dcd8"/>
<rect x="809" y="546.5" width="12" height="3" fill="#606060"/><rect x="809" y="551" width="12" height="3" fill="#606060"/>
<rect x="862.2" y="575.5" width="11.6" height="10.7" fill="#d8d4cc"/>
<rect x="864" y="577" width="8" height="9" fill="#c8c8c8"/>
<rect x="857" y="560" width="23" height="16" fill="#e6e1d6"/>
<rect x="852" y="530.5" width="32.5" height="10.5" fill="#ebe7df"/>
<rect x="849.6" y="532.6" width="3" height="8" fill="#2a2a2c"/>
<rect x="884.5" y="532.6" width="9.2" height="8.4" rx="1.2" fill="#262628"/>
<rect x="862" y="529.5" width="3" height="1.5" fill="#333"/><rect x="869" y="529.5" width="3" height="1.5" fill="#333"/>
<circle cx="869" cy="551.5" r="15.6" fill="#d42a30"/>
<circle cx="869" cy="551.5" r="12.6" fill="#e24448"/>
<circle cx="869" cy="551.5" r="10.2" fill="#161718"/>
<rect x="860.6" y="546.8" width="17.4" height="9.4" rx="0.8" fill="#9ccc50"/>
<rect x="862" y="548" width="15" height="2.3" fill="#2e4a18"/><rect x="870" y="552.5" width="7" height="2.3" fill="#2e4a18"/>
</g>
<g id="smoke">
<defs><radialGradient id="smg" cx="0.5" cy="0.5" r="0.5"><stop offset="0.6" stop-color="#f3f3f4"/><stop offset="0.92" stop-color="#eaeaec"/><stop offset="1" stop-color="#f4f4f5"/></radialGradient></defs>
<circle cx="956" cy="553" r="20" fill="url(#smg)"/>
<path d="M965 546.5 L972 548.5 L972 557.5 L965 559 Z" fill="#8a8a8e"/>
<circle cx="955.5" cy="552" r="11" fill="#fbfbfb" stroke="#d8d8da" stroke-width="0.7"/>
<circle cx="939" cy="554" r="2.1" fill="#55585c"/>
</g>
<g id="arcprot">
<rect x="183" y="753" width="2.2" height="4.5" fill="#e02020"/>
<rect x="154" y="756.6" width="36.4" height="51" rx="1" fill="#e6e6e6"/>
<rect x="154" y="756.6" width="4.5" height="51" fill="#dadada"/>
<rect x="154" y="756.6" width="36.4" height="1.8" fill="#d8d8d8"/>
<rect x="158.5" y="797.6" width="30.5" height="10" fill="#dcdcdc"/>
<rect x="154" y="796.8" width="36.4" height="1" fill="#c8c8c8"/>
<circle cx="160.5" cy="758.8" r="1.6" fill="#2a2a2a"/><circle cx="189" cy="759.5" r="1.6" fill="#2a2a2a"/>
<rect x="168" y="767.4" width="15" height="9.4" fill="#c4d0dc" stroke="#aab4be" stroke-width="0.4"/>
<g fill="#ec8a3a"><rect x="165" y="781.8" width="4" height="3.2" rx="0.6"/><rect x="170" y="781.8" width="4.6" height="3.2" rx="0.6"/><rect x="175.7" y="781.8" width="4" height="3.2" rx="0.6"/><rect x="180.7" y="781.8" width="4.7" height="3.2" rx="0.6"/></g>
<g fill="#999"><rect x="164" y="768" width="1" height="1"/><rect x="164" y="771" width="1" height="1"/><rect x="164" y="774" width="1" height="1"/><rect x="185.5" y="768" width="1" height="1"/><rect x="185.5" y="771" width="1" height="1"/><rect x="185.5" y="774" width="1" height="1"/></g>
<rect x="169" y="778.5" width="12" height="0.7" fill="#bbb"/>
<circle cx="174" cy="803.5" r="1" fill="#555"/>
</g>
<g id="meter">
<path d="M272.5 763.5 L327 762.5 L334.5 770.5 L334.5 799 L282 799 L271.5 795.5 L271 764.5 Z" fill="#33373e"/>
<path d="M272.5 763.5 L327 762.5 L334.5 770.5 L282 772.5 Z" fill="#3f444b"/>
<path d="M292 763.2 L323 762.6 L330.5 770.6 L300 771.8 Z" fill="#7b8188"/>
<path d="M271 764.5 L282 772.5 L282 799 L271.5 795.5 Z" fill="#2b2f35"/>
<rect x="269.8" y="772" width="1.6" height="10" fill="#5a5e64"/>
<rect x="282" y="772" width="52.5" height="27" fill="#393d45"/>
<rect x="294.3" y="779" width="30" height="9.4" fill="#bccde0"/>
<rect x="301" y="781.5" width="7" height="1.2" fill="#4a5060"/>
<g fill="#ea5a2e"><circle cx="299" cy="793.3" r="2.1"/><circle cx="305.5" cy="793.3" r="2.1"/><circle cx="312" cy="793.3" r="2.1"/><circle cx="318.3" cy="793.3" r="2.1"/><circle cx="325" cy="793.3" r="2.1"/></g>
<g fill="#8a8e94"><rect x="328" y="778" width="2.5" height="1.2"/><rect x="328" y="781.5" width="2.5" height="1.2"/><rect x="328" y="785" width="2.5" height="1.2"/><rect x="328" y="788.5" width="2.5" height="1.2"/></g>
<rect x="291" y="793" width="1.5" height="1.5" fill="#111"/>
</g>
<g id="din1">
<path d="M386 758 L390 751.5 L440 751.5 L445 756 L445 770 L386 770 Z" fill="#dcdfe0"/>
<rect x="386" y="769" width="20.5" height="40" fill="#d2d5d6"/>
<rect x="386" y="800" width="59" height="9" fill="#d6d9da"/>
<rect x="406.5" y="769.5" width="38.8" height="31.5" fill="#e6e8e9"/>
<rect x="414" y="757.5" width="11" height="6.5" fill="#2e8a4a"/>
<rect x="415" y="758.5" width="9" height="3" fill="#e8f0e8"/>
<circle cx="409" cy="762" r="1.7" fill="#555"/><circle cx="430" cy="762" r="1.7" fill="#555"/>
<rect x="408.5" y="777" width="5" height="1.3" fill="#d04040"/>
<rect x="416" y="781" width="16.7" height="9" fill="#f4f6f8" stroke="#b8bcc0" stroke-width="0.5"/>
<g fill="#e8863a"><circle cx="441" cy="775.7" r="2.1"/><circle cx="441" cy="781" r="2.1"/><circle cx="441" cy="786.2" r="2.1"/><circle cx="441" cy="791.4" r="2.1"/></g>
<ellipse cx="399" cy="789" rx="2" ry="5" fill="#e8c860" opacity="0.8"/>
<g fill="#fff" stroke="#bbb" stroke-width="0.4"><rect x="419" y="794" width="2.4" height="2.4"/><rect x="424" y="794" width="2.4" height="2.4"/></g>
<rect x="429" y="794" width="2" height="2.4" fill="#3aa050"/>
</g>
<g id="meter2">
<path d="M552 760 L568.2 761.5 L568.2 801 L552 802 Z" fill="#3a4a58"/>
<rect x="555" y="778" width="13" height="3" fill="#a8b0a8"/>
<rect x="518.8" y="757.8" width="36.5" height="45.2" fill="#7a8898"/>
<rect x="520.5" y="759.5" width="33" height="41.5" fill="#3d4a56"/>
<circle cx="524.5" cy="768.5" r="2.5" fill="#5aa8d0" stroke="#ddd" stroke-width="0.5"/>
<g fill="#30c080"><rect x="531" y="765" width="1.3" height="1.3"/><rect x="535" y="765" width="1.3" height="1.3"/><rect x="539" y="765" width="1.3" height="1.3"/><rect x="543" y="765" width="1.3" height="1.3"/></g>
<rect x="525" y="774.6" width="21" height="14.7" fill="#b8c8d0"/>
<rect x="527" y="778" width="10" height="1.5" fill="#556"/>
<g fill="#e8542c"><circle cx="523.5" cy="795.6" r="1.7"/><circle cx="527.7" cy="795.6" r="1.7"/><circle cx="531.9" cy="795.6" r="1.7"/><circle cx="536.1" cy="795.6" r="1.7"/><circle cx="540.3" cy="795.6" r="1.7"/><circle cx="544.5" cy="795.6" r="1.7"/></g>
<g fill="#30b070"><rect x="549" y="770" width="1" height="2"/><rect x="549" y="776" width="1" height="2"/><rect x="549" y="782" width="1" height="2"/></g>
</g>
<g id="thsensor">
<rect x="651.8" y="789" width="2.8" height="13" fill="#d4d4d6"/>
<rect x="648.2" y="759.9" width="35.5" height="29.3" rx="1" fill="#f6f7f8" stroke="#dcdee0" stroke-width="0.5"/>
<rect x="653.4" y="762.6" width="25.2" height="17" fill="#dde5dd"/>
<text x="677" y="769.6" font-size="8" font-weight="bold" fill="#3a3a3a" font-family="Liberation Sans" text-anchor="end" textLength="14.5" lengthAdjust="spacingAndGlyphs">25.3</text>
<text x="676" y="776.2" font-size="8" font-weight="bold" fill="#3a3a3a" font-family="Liberation Sans" text-anchor="end" textLength="13.5" lengthAdjust="spacingAndGlyphs">34.5</text>
<g fill="#888"><rect x="656" y="765" width="3" height="0.8"/><rect x="657" y="770" width="1" height="0.8"/><rect x="657" y="775" width="1" height="1"/><rect x="656" y="777.5" width="12" height="0.8"/></g>
<rect x="653.7" y="782.7" width="25.2" height="6.5" fill="#c9e2f2"/>
<rect x="653.7" y="787.4" width="25.2" height="1.6" fill="#1f55b8"/>
<g fill="#2a64c8"><rect x="657.5" y="783.8" width="2.8" height="3"/><rect x="662" y="783.8" width="2.8" height="3"/><rect x="666.5" y="783.8" width="2.8" height="3"/><rect x="671" y="783.8" width="2.8" height="3"/></g>
<rect x="648.5" y="783" width="1.5" height="4.5" fill="#c8b890"/><rect x="682" y="783" width="1.5" height="4.5" fill="#c8b890"/>
</g>
<g id="wts">
<path d="M778.8 754.8 L831.2 756.3 L830.7 806.7 L779 807.5 Z" fill="#1d1e21"/>
<path d="M786 761 L824 762 L824 795 L786 795.5 Z" fill="none" stroke="#34363a" stroke-width="0.6"/>
<rect x="790.4" y="766.4" width="28.8" height="20.5" rx="1" fill="#b4b8b4"/>
<rect x="792" y="768" width="25.6" height="17.3" fill="#849a5a"/>
<g fill="#9a9a9a"><rect x="796.5" y="762.5" width="1" height="2"/><rect x="802" y="762.5" width="1" height="2"/><rect x="807.5" y="762.5" width="1" height="2"/><rect x="813" y="762.5" width="1" height="2"/></g>
<rect x="800" y="790" width="14" height="0.9" fill="#8a8a8a"/><rect x="799" y="792.5" width="16" height="0.7" fill="#6a6a6a"/>
<g fill="#3aa6e6"><ellipse cx="798.6" cy="803" rx="2.3" ry="1.7" transform="rotate(30 798.6 803)"/><ellipse cx="805.8" cy="803" rx="2.3" ry="1.7" transform="rotate(30 805.8 803)"/><ellipse cx="813" cy="803" rx="2.3" ry="1.7" transform="rotate(30 813 803)"/><ellipse cx="819.8" cy="803" rx="2.3" ry="1.7" transform="rotate(30 819.8 803)"/></g>
<ellipse cx="798.5" cy="798" rx="2.2" ry="1.3" fill="none" stroke="#ddd" stroke-width="0.7"/>
<g fill="#bbb"><rect x="805.5" y="797" width="0.8" height="2"/><rect x="812.5" y="797" width="0.8" height="2"/><rect x="819.5" y="797" width="0.8" height="2"/></g>
</g>
<g id="din2">
<rect x="896" y="751" width="39.4" height="20" fill="#dadde0"/>
<rect x="896" y="751" width="39.4" height="2.5" fill="#c8ccd0"/>
<rect x="903" y="753.5" width="6" height="1.2" fill="#555"/><rect x="922" y="753.5" width="6" height="1.2" fill="#555"/>
<rect x="910" y="759.5" width="11.4" height="5" fill="#2e8a4a"/>
<circle cx="903" cy="762.5" r="1.5" fill="#444"/><circle cx="927.5" cy="762.5" r="1.5" fill="#444"/>
<circle cx="897.5" cy="760" r="1.2" fill="#999"/><circle cx="934" cy="760" r="1.2" fill="#999"/>
<rect x="897" y="771" width="37" height="3" fill="#c8ccd0"/>
<rect x="898" y="774" width="34" height="24" fill="#e6e8ea"/>
<rect x="896" y="797" width="39.4" height="6.6" fill="#d4d7da"/>
<rect x="904" y="781.7" width="17.4" height="6.3" fill="#f8f9fa" stroke="#b0b4b8" stroke-width="0.5"/>
<rect x="906" y="776" width="14" height="0.8" fill="#888"/>
<g fill="#eb9a40"><circle cx="932" cy="777.4" r="2.2"/><circle cx="932" cy="782.6" r="2.2"/><circle cx="932" cy="788" r="2.2"/><circle cx="932" cy="793" r="2.2"/></g>
<g fill="#fff" stroke="#aaa" stroke-width="0.4"><rect x="907" y="791.5" width="2.4" height="2.4"/><rect x="912" y="791.5" width="2.4" height="2.4"/></g>
<rect x="917" y="791.5" width="1.8" height="2.4" fill="#3aa050"/>
<circle cx="903" cy="800.5" r="1.5" fill="#444"/><circle cx="927.5" cy="800.5" r="1.5" fill="#444"/>
<circle cx="897.5" cy="802" r="1.2" fill="#999"/><circle cx="934" cy="802" r="1.2" fill="#999"/>
</g>
</svg></body></html>
